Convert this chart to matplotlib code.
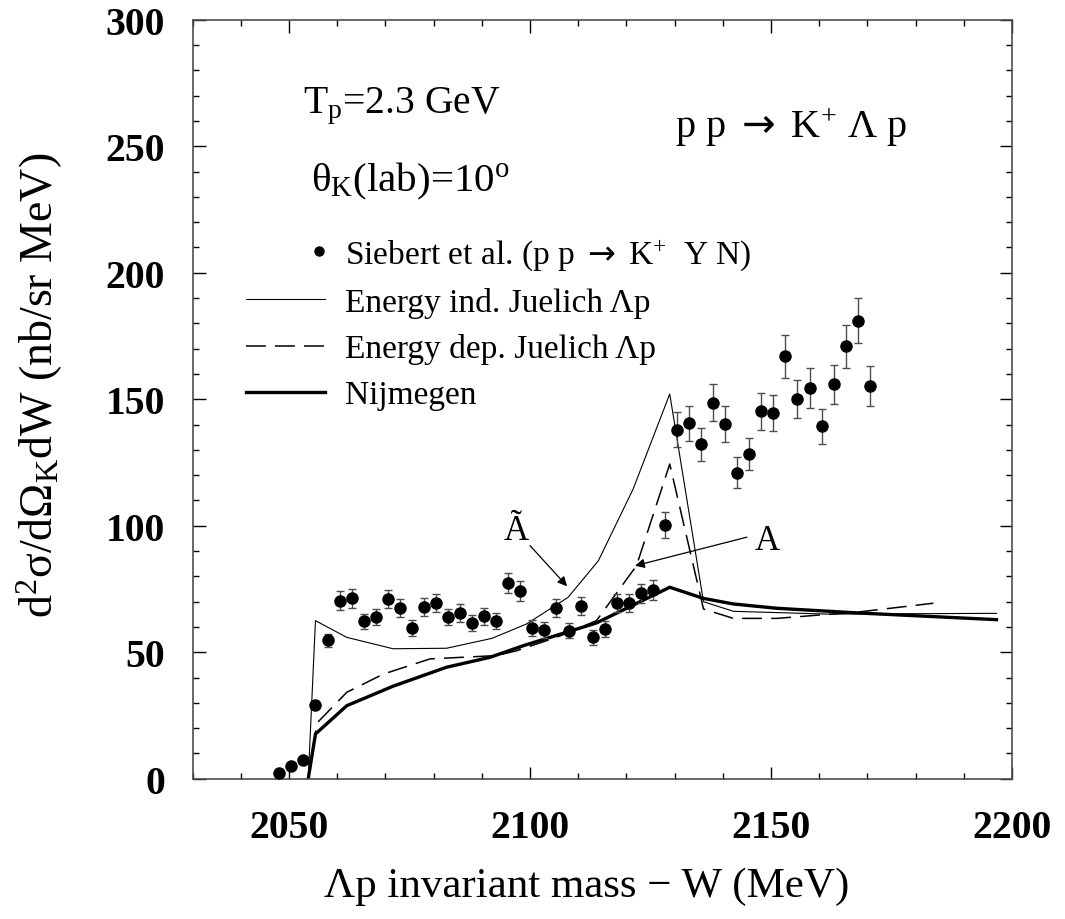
#!/usr/bin/env python3
import matplotlib
matplotlib.use("Agg")
import matplotlib.pyplot as plt
from matplotlib.ticker import MultipleLocator
from matplotlib.lines import Line2D
from matplotlib.legend_handler import HandlerLine2D

# Siebert et al. data (W in MeV, cross section in nb/sr MeV)
w_data = [2048.0, 2050.5, 2053.0, 2055.5, 2058.0, 2060.5, 2063.0, 2065.5, 2068.0, 2070.5,
          2073.0, 2075.5, 2078.0, 2080.5, 2083.0, 2085.5, 2088.0, 2090.5, 2093.0, 2095.5,
          2098.0, 2100.5, 2103.0, 2105.5, 2108.0, 2110.5, 2113.0, 2115.5, 2118.0, 2120.5,
          2123.0, 2125.5, 2128.0, 2130.5, 2133.0, 2135.5, 2138.0, 2140.5, 2143.0, 2145.5,
          2148.0, 2150.5, 2153.0, 2155.5, 2158.0, 2160.5, 2163.0, 2165.5, 2168.0, 2170.5]
xs_data = [2.3, 4.9, 7.4, 29.3, 54.7, 70.4, 71.3, 62.3, 63.8, 71.1,
           67.4, 59.6, 67.8, 69.4, 63.8, 65.5, 61.6, 64.2, 62.4, 77.5,
           74.2, 59.5, 58.8, 67.4, 58.5, 68.2, 56.0, 59.3, 69.4, 69.5,
           73.3, 74.7, 100.4, 138.0, 140.5, 132.2, 148.7, 140.2, 121.0, 128.5,
           145.3, 144.6, 167.0, 150.0, 154.5, 139.3, 155.9, 170.9, 181.1, 155.3]
xs_err = [0.5, 0.6, 0.8, 1.5, 2.6, 3.7, 3.8, 3.0, 3.2, 3.7,
          3.5, 3.1, 3.5, 3.6, 3.2, 3.4, 3.1, 3.3, 3.2, 4.0,
          3.9, 3.1, 3.0, 3.5, 3.0, 3.5, 3.0, 3.1, 3.6, 3.6,
          3.8, 3.9, 5.1, 6.9, 6.9, 6.6, 7.4, 7.0, 6.1, 6.3,
          7.3, 7.2, 8.4, 7.5, 7.8, 7.0, 7.8, 8.6, 9.0, 7.8]

# energy independent Juelich
w_ind = [2054.0, 2055.5, 2062.0, 2071.6, 2082.7, 2092.1, 2099.3, 2107.9, 2114.2, 2121.4,
         2129.0, 2136.0, 2142.2, 2161.6, 2196.8]
xs_ind = [0.0, 62.5, 55.9, 51.4, 51.6, 55.5, 61.2, 71.7, 86.2, 114.5,
          152.1, 70.0, 66.2, 65.1, 65.4]

# energy dependent Juelich
w_dep = [2054.0, 2055.8, 2062.0, 2069.6, 2079.3, 2093.1, 2097.2, 2105.5, 2113.8, 2122.1,
         2129.0, 2136.0, 2142.2, 2151.2, 2168.5, 2183.7]
xs_dep = [0.0, 22.0, 34.2, 41.4, 47.4, 48.7, 50.6, 55.9, 62.5, 84.2,
          124.4, 67.1, 63.4, 63.4, 66.0, 69.4]

# Nijmegen
w_nij = [2054.0, 2055.5, 2062.0, 2071.6, 2082.7, 2091.7, 2098.6, 2113.8, 2129.0, 2136.0,
         2142.2, 2151.2, 2168.5, 2196.8]
xs_nij = [0.0, 17.7, 28.9, 36.6, 44.1, 48.0, 52.6, 61.6, 75.7, 71.3,
          69.1, 67.4, 65.5, 62.9]

# arrow annotations: text position, arrow start, arrow end
atilde_text = (2097.2, 94.8)
atilde_arrow = [(2100.0, 92.2), (2107.7, 76.1)]
a_text = (2149.3, 90.8)
a_arrow = [(2145.0, 95.5), (2121.8, 84.2)]

plt.rcParams["font.family"] = "Liberation Serif"
plt.rcParams["mathtext.fontset"] = "custom"
plt.rcParams["mathtext.rm"] = "Liberation Serif"
plt.rcParams["mathtext.it"] = "Liberation Serif:italic"
plt.rcParams["mathtext.bf"] = "Liberation Serif:bold"
plt.rcParams["mathtext.sf"] = "DejaVu Sans"  # only used for the long arrow

ARROW = r"$\mathsf{\rightarrow}$"


class RightMarkerHandler(HandlerLine2D):
    # put the bullet at the right end of the legend handle
    def get_xdata(self, legend, xdescent, ydescent, width, height, fontsize):
        right = -xdescent + width
        return [right - 8, right], [right - 4]


fig = plt.figure(figsize=(10.65, 9.2), dpi=100)
ax = fig.add_axes([0.1808, 0.1524, 0.7694, 0.825])

l_ind, = ax.plot(w_ind, xs_ind, "-", color="k", lw=0.8)
l_dep, = ax.plot(w_dep, xs_dep, color="k", lw=1.1, linestyle=(0, (13, 6)))
l_nij, = ax.plot(w_nij, xs_nij, "-", color="k", lw=2.4)
ax.errorbar(w_data, xs_data, yerr=xs_err, fmt="o", ms=8, color="k",
            ecolor="0.3", elinewidth=1, capsize=3, capthick=1, zorder=4)

for start, end in (atilde_arrow, a_arrow):
    ax.annotate("", xy=end, xytext=start,
                arrowprops=dict(arrowstyle="-|>", lw=0.9, color="k", mutation_scale=14,
                                shrinkA=0, shrinkB=0))
ax.text(atilde_text[0], atilde_text[1], "Ã", fontsize=25, ha="center", va="baseline")
ax.text(a_text[0], a_text[1], "A", fontsize=25, ha="center", va="baseline")

ax.text(2052.9, 263.4, r"T$_\mathrm{p}$=2.3 GeV", fontsize=28.5, va="baseline")
ax.text(2054.6, 232.5, r"θ$_\mathrm{K}$(lab)=10$^\mathrm{o}$", fontsize=29.5, va="baseline")
ax.text(2130.0, 253.6, "p p " + ARROW + r" K$^\mathrm{+}$ Λ p", fontsize=29, va="baseline")

dot = Line2D([], [], ls="none", marker="o", ms=6.5, color="k")
leg = ax.legend([dot, l_ind, l_dep, l_nij],
                ["Siebert et al. (p p " + ARROW + r" K$^\mathrm{+}$  Y N)",
                 "Energy ind. Juelich Λp", "Energy dep. Juelich Λp", "Nijmegen"],
                handler_map={dot: RightMarkerHandler(numpoints=1)},
                loc="upper left", bbox_to_anchor=(0.065, 0.715), frameon=False,
                fontsize=24, handlelength=2.37, handletextpad=0.6,
                labelspacing=0.46, borderpad=0, borderaxespad=0)

ax.set_xlim(2030, 2200)
ax.set_ylim(0, 300)
ax.xaxis.set_major_locator(MultipleLocator(50))
ax.xaxis.set_minor_locator(MultipleLocator(10))
ax.yaxis.set_major_locator(MultipleLocator(50))
ax.yaxis.set_minor_locator(MultipleLocator(10))
ax.tick_params(which="both", direction="in", top=True, right=True, width=1)
ax.tick_params(which="major", length=9)
ax.tick_params(which="minor", length=4)
ax.tick_params(axis="y", pad=20)
ax.tick_params(axis="x", pad=22)
for lab in ax.get_xticklabels() + ax.get_yticklabels():
    lab.set_fontsize(28.5)
    lab.set_fontweight("bold")
for sp in ax.spines.values():
    sp.set_linewidth(1.2)
    sp.set_color("0.3")

ax.set_xlabel("Λp invariant mass − W (MeV)", fontsize=31)
ax.xaxis.set_label_coords(0.481, -0.1544)
ax.xaxis.label.set_va("baseline")
ax.set_ylabel(r"d$^\mathrm{2}$σ/dΩ$_\mathrm{K}$dW (nb/sr MeV)", fontsize=33)
ax.yaxis.set_label_coords(-0.186, 0.5195)
ax.yaxis.label.set_va("center")

fig.savefig("out.png", dpi=100)
